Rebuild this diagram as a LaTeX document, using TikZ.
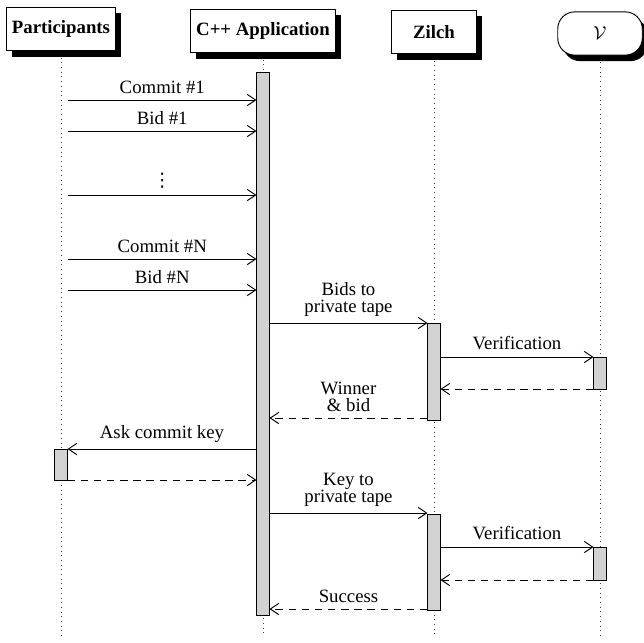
\documentclass[tikz,border=0pt]{standalone}
\usepackage{fontspec}
\setmainfont{Liberation Serif}
\newfontfamily\dejavufont{DejaVu Sans}
\usetikzlibrary{arrows.meta,shadows}
\begin{document}
\begin{tikzpicture}[x=0.5325pt,y=-0.5325pt,
  hdr/.style={draw, fill=white, font=\bfseries, minimum height=23pt, minimum width=45pt, inner xsep=3pt, line width=0.5pt,
    drop shadow={shadow xshift=2.8pt, shadow yshift=-3.2pt, fill=black, opacity=1}},
  life/.style={dotted, black!75, line width=0.5pt},
  actbar/.style={draw=black, fill=gray!35, line width=0.5pt},
  msg/.style={-{Straight Barb[length=4.5pt,width=6pt]}, line width=0.5pt},
  ret/.style={msg, dash pattern=on 4pt off 3pt},
  lbl/.style={above, align=center}]
\useasboundingbox (0,0) rectangle (644,642);

% headers
\node[hdr] (P) at (61,29) {Participants};
\node[hdr] (C) at (263,31) {C++ Application};
\node[hdr] (Z) at (434,32) {Zilch};
\node[hdr, rounded corners=9pt, font=\normalfont] (V) at (600,33.5) {$\mathcal{V}$};

% lifeline ends
\coordinate (Pend) at (61,636);
\coordinate (Cend) at (263,636);
\coordinate (Zend) at (434,636);
\coordinate (Vend) at (600,636);
\draw[life] ([yshift=-3.5pt]P.south) -- (Pend);
\draw[life] ([yshift=-3.5pt]C.south) -- (Cend);
\draw[life] ([yshift=-3.5pt]Z.south) -- (Zend);
\draw[life] ([yshift=-3.5pt]V.south) -- (Vend);

% activation bars
\draw[actbar] (256.5,72) rectangle (269.5,615);
\draw[actbar] (427.5,323) rectangle (440.5,420);
\draw[actbar] (593.5,357) rectangle (606.5,389);
\draw[actbar] (54.5,449) rectangle (67.5,480);
\draw[actbar] (427.5,514) rectangle (440.5,610);
\draw[actbar] (593.5,547) rectangle (606.5,580);

% message end points
\coordinate (s1) at (68,100);   \coordinate (e1) at (256.5,100);
\coordinate (s2) at (68,131);   \coordinate (e2) at (256.5,131);
\coordinate (s3) at (68,195);   \coordinate (e3) at (256.5,195);
\coordinate (s4) at (68,259);   \coordinate (e4) at (256.5,259);
\coordinate (s5) at (68,290);   \coordinate (e5) at (256.5,290);
\coordinate (s6) at (269.5,323); \coordinate (e6) at (427.5,323);
\coordinate (s7) at (440.5,357); \coordinate (e7) at (593.5,357);
\coordinate (s8) at (593.5,389); \coordinate (e8) at (440.5,389);
\coordinate (s9) at (427.5,418); \coordinate (e9) at (269.5,418);
\coordinate (s10) at (256.5,449); \coordinate (e10) at (67.5,449);
\coordinate (s11) at (67.5,480); \coordinate (e11) at (256.5,480);
\coordinate (s12) at (269.5,513); \coordinate (e12) at (427.5,513);
\coordinate (s13) at (440.5,547); \coordinate (e13) at (593.5,547);
\coordinate (s14) at (593.5,580); \coordinate (e14) at (440.5,580);
\coordinate (s15) at (427.5,609); \coordinate (e15) at (269.5,609);

% messages
\draw[msg] (s1) -- node[lbl] {Commit \#1} (e1);
\draw[msg] (s2) -- node[lbl] {Bid \#1} (e2);
\draw[msg] (s3) -- node[lbl] {\dejavufont ⋮} (e3);
\draw[msg] (s4) -- node[lbl] {Commit \#N} (e4);
\draw[msg] (s5) -- node[lbl] {Bid \#N} (e5);
\draw[msg] (s6) -- node[lbl] {Bids to\\[-3pt]private tape} (e6);
\draw[msg] (s7) -- node[lbl] {Verification} (e7);
\draw[ret] (s8) -- (e8);
\draw[ret] (s9) -- node[lbl] {Winner\\[-3pt]\& bid} (e9);
\draw[msg] (s10) -- node[lbl] {Ask commit key} (e10);
\draw[ret] (s11) -- (e11);
\draw[msg] (s12) -- node[lbl] {Key to\\[-3pt]private tape} (e12);
\draw[msg] (s13) -- node[lbl] {Verification} (e13);
\draw[ret] (s14) -- (e14);
\draw[ret] (s15) -- node[lbl] {Success} (e15);
\end{tikzpicture}
\end{document}
